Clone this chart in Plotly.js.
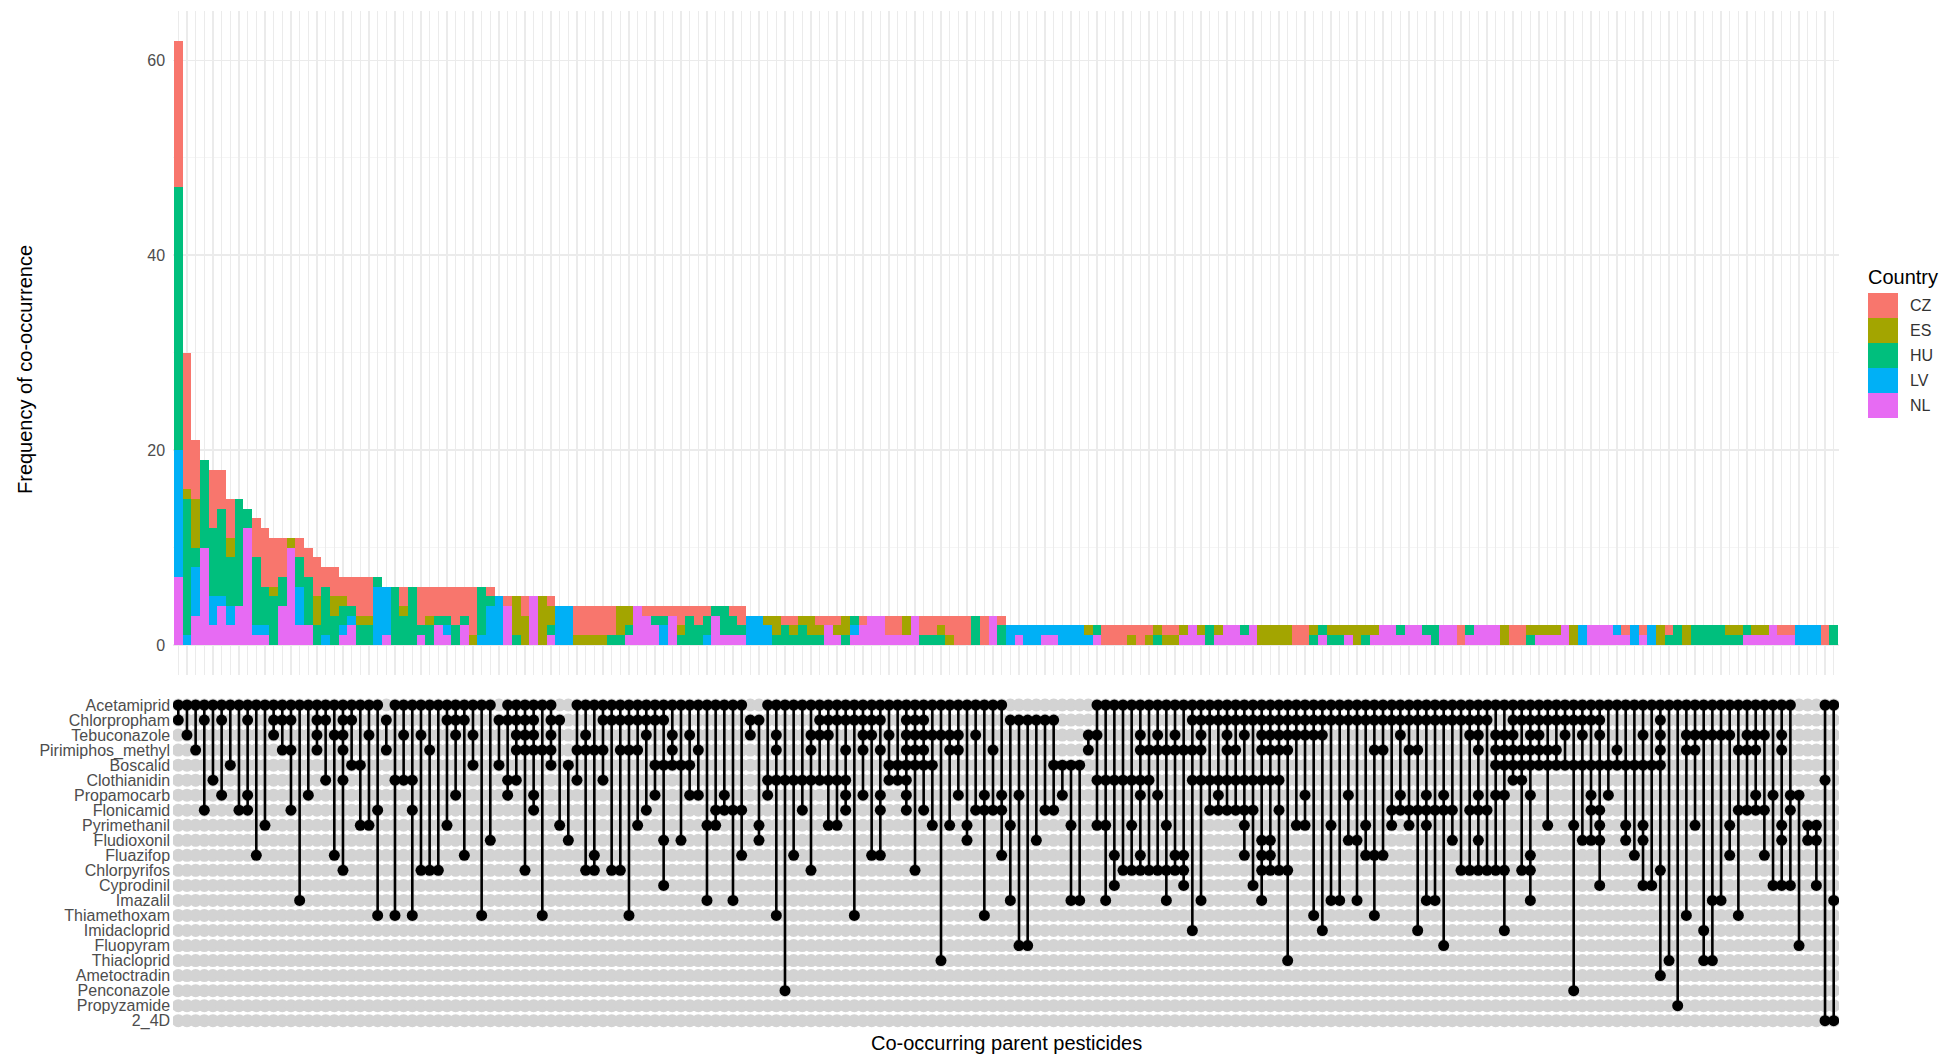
<!DOCTYPE html>
<html><head><meta charset="utf-8">
<script src="https://cdn.plot.ly/plotly-3.0.1.min.js"></script>
<style>body{margin:0;background:#fff}#chart{width:1939px;height:1055px}</style>
</head><body><div id="chart"></div>
<script>
// ---------------- DATA ----------------
const pesticides = ["Acetamiprid","Chlorpropham","Tebuconazole","Pirimiphos_methyl","Boscalid","Clothianidin",
  "Propamocarb","Flonicamid","Pyrimethanil","Fludioxonil","Fluazifop","Chlorpyrifos","Cyprodinil","Imazalil",
  "Thiamethoxam","Imidacloprid","Fluopyram","Thiacloprid","Ametoctradin","Penconazole","Propyzamide","2_4D"];

const countries = ["CZ","ES","HU","LV","NL"];

// frequency of each combination per country (192 combinations, left to right)
const CZ = [15,14,6,0,6,4,4,0,0,4, 6,5,4,0,2,3,4,2,3,2, 3,4,4,0,0,0,2,0,4,3, 3,3,4,3,5,0,1,0,1,0,
  2,0,0,1,0,0,3,3,3,3, 3,0,0,0,1,1,1,1,2,1, 2,1,0,0,1,2,0,0,0,0, 1,1,0,0,1,1,1,0,0,1, 0,0,2,2,0,0,2,2,1,2,
  3,3,0,3,0,1,0,0,0,0, 0,0,0,0,0,0,0,2,2,2, 1,2,1,0,1,1,0,0,0,0, 0,0,0,0,0,0,0,0,0,2, 2,0,0,0,0,0,0,0,0,0,
  0,0,0,0,0,0,0,0,2,0, 0,0,0,0,2,2,0,0,0,0, 0,0,0,0,0,0,0,1,0,1, 0,0,1,0,0,0,0,0,0,0, 0,0,0,0,0,1,1,0,0,0, 2,0];
const ES = [0,1,5,0,0,0,2,0,0,0, 0,1,0,1,0,0,3,0,2,1, 0,1,1,0,0,0,1,0,0,1, 0,0,0,0,1,0,0,0,0,4,
  3,0,5,2,0,0,1,1,1,1, 0,3,2,0,0,0,0,0,1,0, 0,0,0,0,0,0,0,0,1,2, 0,1,1,2,1,0,1,2,0,0, 0,0,0,0,2,0,0,0,1,1,
  0,0,0,0,0,0,0,0,0,0, 0,0,0,0,0,1,0,0,0,0, 1,0,1,1,1,1,1,0,1,0, 1,0,0,0,0,2,2,2,2,0, 0,1,0,1,1,1,2,1,1,0,
  0,0,0,0,0,0,0,0,0,0, 0,0,0,2,0,0,1,1,1,1, 0,2,0,0,0,0,0,0,0,0, 0,2,0,0,2,0,0,0,0,1, 1,0,1,1,0,0,0,0,0,0, 0,0];
const HU = [27,14,2,9,7,9,5,11,2,7, 4,5,3,0,3,5,2,5,3,2, 1,2,2,1,0,6,3,6,1,2, 1,1,2,1,0,5,1,0,0,1,
  0,0,0,1,0,0,0,0,0,0, 1,1,1,0,0,1,1,0,1,3, 2,2,1,3,2,1,0,0,0,1, 2,1,2,1,1,0,0,1,1,0, 0,0,0,0,0,0,1,1,1,0,
  0,0,3,0,0,2,0,0,0,0, 0,0,0,0,0,0,1,0,0,0, 0,0,0,1,0,0,0,0,0,2, 0,0,0,1,0,0,0,0,0,0, 0,1,1,1,1,0,0,1,0,0,
  0,1,0,0,1,2,0,0,0,1, 0,0,0,0,0,0,1,0,0,0, 0,0,0,0,0,0,0,0,0,0, 0,0,1,2,0,2,2,2,2,1, 1,1,0,0,0,0,0,0,0,0, 0,2];
const LV = [13,1,5,0,3,1,2,0,0,1, 1,0,0,0,4,0,0,1,0,1, 1,0,0,6,5,0,0,0,0,0, 0,1,0,0,0,1,4,5,0,0,
  0,0,0,0,4,4,0,0,0,0, 0,0,0,0,0,0,2,0,0,0, 0,1,0,0,0,0,3,3,2,0, 0,0,0,0,0,0,0,0,1,0, 0,0,0,0,0,0,0,0,0,0,
  0,0,0,0,0,0,2,1,2,2, 1,1,2,2,2,1,0,0,0,0, 0,0,0,0,0,0,0,0,0,0, 0,0,0,0,0,0,0,0,0,0, 0,0,0,0,0,0,0,0,0,0,
  0,0,0,0,0,0,0,0,0,0, 0,0,0,0,0,0,0,0,0,0, 0,0,2,0,0,0,1,0,2,0, 2,0,0,0,0,0,0,0,0,0, 0,0,0,0,0,0,0,2,2,2, 0,0];
const NL = [7,0,3,10,2,4,2,4,12,1, 1,0,4,10,2,2,0,0,0,1, 2,0,0,0,1,0,0,0,1,0, 2,1,0,2,0,0,0,0,4,0,
  0,5,0,1,0,0,0,0,0,0, 0,0,1,4,3,2,0,3,0,0, 0,0,3,1,1,1,0,0,0,0, 0,0,0,0,0,2,1,0,1,2, 3,3,1,1,1,3,0,0,0,0,
  0,0,0,0,3,0,0,1,0,0, 1,1,0,0,0,0,1,0,0,0, 0,0,0,0,0,0,1,2,1,0, 1,2,2,1,2,0,0,0,0,0, 0,0,1,0,0,1,0,0,1,2,
  2,1,2,2,1,0,2,2,0,1, 2,2,2,0,0,0,0,1,1,1, 2,0,0,2,2,2,1,1,0,1, 0,0,0,0,0,0,0,0,0,0, 0,1,1,1,2,1,1,0,0,0, 0,0];

// pesticides present in each combination (indices into `pesticides`)
const combos = [
  [0,1],[0,2],[0,3],[0,1,7],[0,5],[0,1,6],[0,4],[0,7],[0,1,6,7],[0,10],
  [0,8],[0,1,2],[0,1,3],[0,1,3,7],[0,13],[0,6],[0,1,2,3],[0,1,5],[0,2,10],[0,1,2,3,5,11],
  [0,1,4],[0,4,8],[0,2,8],[0,7,14],[1,3],[0,5,14],[0,2,5],[0,5,7,14],[0,2,11],[0,3,11],
  [0,11],[0,1,8],[0,1,2,6],[0,1,10],[0,2,4],[0,14],[0,9],[1,4],[0,1,5,6],[0,1,2,3,5],
  [0,1,2,3,11],[0,1,2,3,6,7],[0,3,14],[0,1,2,3,4],[1,8],[4,9],[0,3,5],[0,2,3,11],[0,3,10,11],[0,1,3,5],
  [0,1,11],[0,1,3,11],[0,1,3,14],[0,1,3,8],[0,1,2,7],[0,1,4,6],[0,1,4,9,12],[0,2,3,4],[0,4,9],[0,2,4,6],
  [0,3,6],[0,8,13],[0,7,8],[0,6,7],[0,7,13],[0,7,10],[1,2],[1,8,9],[0,5,6],[0,2,3,5,14],
  [0,5,19],[0,5,10],[0,5,7],[0,2,3,5,11],[0,1,2,5],[0,1,2,5,8],[0,1,5,8],[0,1,3,5,6,7],[0,1,14],[0,1,2,3,6],
  [0,1,2,10],[0,1,3,6,7,10],[0,2,4,5],[0,4,5],[0,1,2,3,4,5,6,7],[0,1,2,3,4,11],[0,1,2,3,4,7],[0,2,4,8],[0,2,17],[0,2,3,8],
  [0,2,3,6],[0,8,9],[0,2,7],[0,6,7,14],[0,3,7],[0,6,7,10],[1,8,13],[1,6,16],[1,16],[1,9],
  [1,7],[1,4,7],[4,6],[4,8,13],[4,13],[2,3],[0,2,5,8],[0,5,8,13],[0,5,10,12],[0,5,11],
  [0,5,8,11],[0,2,3,5,6,10,11],[0,3,5,11],[0,2,3,6,11],[0,3,8,11,13],[0,2,3,10,11],[0,3,10,11,12],[0,1,3,5,15],[0,1,2,3,5,13],[0,1,5,7],
  [0,1,5,6,7],[0,1,2,3,5,7],[0,1,3,5,7],[0,1,2,5,7,8,10],[0,1,5,7,12],[0,1,2,3,5,9,10,11,13],[0,1,2,3,5,9,10,11],[0,1,2,3,5,7,11],[0,1,2,3,11,17],[0,1,2,8],
  [0,1,2,6,8],[0,1,2,14],[0,1,2,15],[0,1,8,13],[0,1,13],[0,1,6,9],[0,1,9,13],[0,1,8,10],[0,1,3,10,14],[0,1,3,10],
  [0,1,7,8],[0,1,2,6,7],[0,1,3,7,8],[0,1,3,7,15],[0,1,6,7,8,13],[0,1,7,13],[0,1,6,7,16],[0,1,7,9],[0,1,11],[0,1,2,7,11],
  [0,1,2,3,6,7,9,11],[0,1,7,11],[0,2,3,4,6,11],[0,2,3,4,6,11,15],[0,1,2,3,4,5],[0,1,3,4,5,11],[0,1,2,3,4,6,10,11,13],[0,1,2,3,4],[0,1,3,4,8],[0,1,3,4],
  [0,1,2,4],[0,1,4,8,19],[0,1,2,4,9],[0,1,4,6,7,9],[0,1,2,4,7,8,9,12],[0,4,6],[0,3,4],[0,4,8,9],[0,4,10],[0,2,4,8,9,12],
  [0,4,12],[0,1,2,3,4,11,18],[0,17],[0,20],[0,2,3,14],[0,2,3,8],[0,2,15,17],[0,2,13,17],[0,2,13],[0,2,8,10],
  [0,3,7,14],[0,2,3,7],[0,2,3,6,7],[0,2,7,10],[0,6,12],[0,2,3,8,9,12],[0,6,7,12],[6,16],[8,9],[8,9,12],
  [0,5,21],[0,13,21]
];

const yTickVals = [0,20,40,60];
const yTitle = "Frequency of co-occurrence";
const xTitle = "Co-occurring parent pesticides";
const legendTitle = "Country";

// ---------------- STYLE / LAYOUT ----------------
const colors = {CZ:"#F8766D", ES:"#A3A500", HU:"#00BF7D", LV:"#00B0F6", NL:"#E76BF3"};
const series = {CZ, ES, HU, LV, NL};
const W = 1939, H = 1055;
const fx = p => p / W, fy = p => 1 - p / H;
const FONT = "Liberation Sans, Arial, Helvetica, sans-serif";
const nCols = combos.length;
const colIdx = combos.map((_, i) => i + 1);
const xDomain = [fx(173.1), fx(1838.9)];
const xRange = [0.4, nCols + 0.6];

const traces = [];
// stacked bars: first trace at the bottom (NL), CZ on top
["NL","LV","HU","ES","CZ"].forEach(c => {
  traces.push({type:"bar", x: colIdx, y: series[c], width: 1, xaxis:"x", yaxis:"y",
    marker:{color: colors[c], line:{width:0}}, name:c, showlegend:false, hoverinfo:"skip"});
});

// matrix background dots
const gx = [], gy = [];
for (let r = 1; r <= pesticides.length; r++) for (let k = 1; k <= nCols; k++) { gx.push(k); gy.push(r); }
traces.push({type:"scatter", mode:"markers", x: gx, y: gy, xaxis:"x2", yaxis:"y2",
  marker:{size:13, color:"#D3D3D3", line:{width:0}}, showlegend:false, hoverinfo:"skip"});

// connecting lines
const lx = [], ly = [];
combos.forEach((s, i) => {
  const rows = s.map(v => v + 1);
  const lo = Math.min(...rows), hi = Math.max(...rows);
  if (hi > lo) { lx.push(i + 1, i + 1, null); ly.push(lo, hi, null); }
});
traces.push({type:"scatter", mode:"lines", x: lx, y: ly, xaxis:"x2", yaxis:"y2",
  line:{color:"#000", width:2.6}, showlegend:false, hoverinfo:"skip", connectgaps:false});

// active dots
const bx = [], by = [];
combos.forEach((s, i) => s.forEach(v => { bx.push(i + 1); by.push(v + 1); }));
traces.push({type:"scatter", mode:"markers", x: bx, y: by, xaxis:"x2", yaxis:"y2",
  marker:{size:11, color:"#000", line:{width:0}}, showlegend:false, hoverinfo:"skip"});

// manual legend
const shapes = [], annotations = [];
countries.forEach((c, i) => {
  const top = 293 + 25 * i;
  shapes.push({type:"rect", xref:"paper", yref:"paper", x0: fx(1868), x1: fx(1898), y0: fy(top + 25), y1: fy(top),
    fillcolor: colors[c], line:{width:0}});
  annotations.push({xref:"paper", yref:"paper", x: fx(1908), y: fy(top + 12.5), xanchor:"left", yanchor:"middle",
    text: c, showarrow:false, font:{family:FONT, size:16, color:"#333"}});
});
annotations.push({xref:"paper", yref:"paper", x: fx(1866), y: fy(277), xanchor:"left", yanchor:"middle",
  text: legendTitle, showarrow:false, font:{family:FONT, size:20, color:"#000"}});
annotations.push({xref:"paper", yref:"paper", x: fx(1006), y: fy(1043), xanchor:"center", yanchor:"middle",
  text: xTitle, showarrow:false, font:{family:FONT, size:20, color:"#000"}});
annotations.push({xref:"paper", yref:"paper", x: fx(25), y: fy(370), xanchor:"center", yanchor:"middle",
  text: yTitle, textangle:-90, showarrow:false, font:{family:FONT, size:20, color:"#000"}});

const layout = {
  width: W, height: H, margin:{l:0, r:0, t:0, b:0}, paper_bgcolor:"#fff", plot_bgcolor:"#fff",
  barmode:"stack", bargap:0, showlegend:false, hovermode:false, font:{family:FONT},
  xaxis:{domain:xDomain, range:xRange, anchor:"y", showgrid:true, gridcolor:"#EBEBEB", gridwidth:1.4,
    tick0:1, dtick:1, showticklabels:false, ticks:"", zeroline:false, showline:false, fixedrange:true},
  yaxis:{domain:[fy(675.2), fy(10.5)], range:[-3.1, 65.1], anchor:"x", tickvals:yTickVals,
    showgrid:true, gridcolor:"#EBEBEB", gridwidth:1.4,
    minor:{tickvals:[10,30,50], showgrid:true, gridcolor:"#F3F3F3", gridwidth:0.8, ticks:""},
    zeroline:false, ticks:"", showline:false, ticklabelstandoff:7,
    tickfont:{family:FONT, size:16, color:"#4D4D4D"}, fixedrange:true},
  xaxis2:{domain:xDomain, range:xRange, anchor:"y2", showgrid:false, showticklabels:false, ticks:"",
    zeroline:false, showline:false, fixedrange:true},
  yaxis2:{domain:[fy(1031), fy(695)], range:[22.685, 0.335], anchor:"x2",
    tickvals: pesticides.map((_, i) => i + 1), ticktext: pesticides,
    showgrid:false, zeroline:false, ticks:"", showline:false, ticklabelstandoff:2,
    tickfont:{family:FONT, size:16, color:"#4D4D4D"}, fixedrange:true},
  shapes, annotations
};

Plotly.newPlot("chart", traces, layout, {staticPlot:true, displayModeBar:false});
</script>
</body></html>
